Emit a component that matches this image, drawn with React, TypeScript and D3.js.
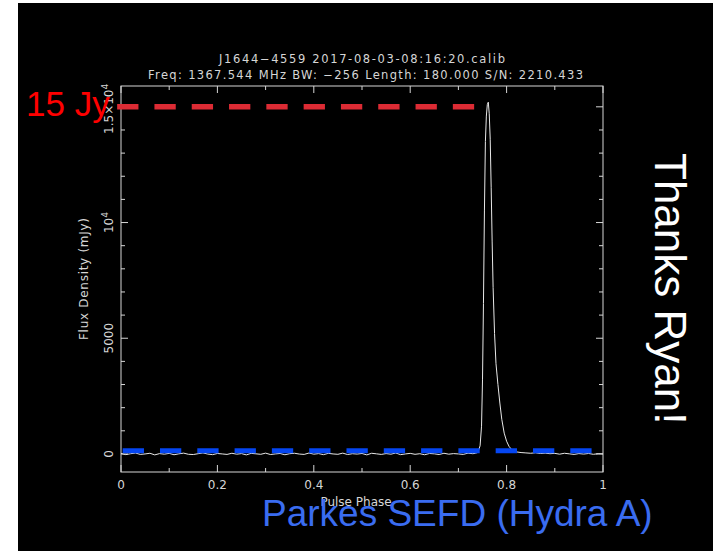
import React from "react";
import * as d3 from "d3";

// Integrated pulse profile of J1644-4559 (flux-calibrated), phase vs. mJy
const profile: [number, number][] = [
  [0.00, 20], [0.01, -30], [0.02, 10], [0.03, 40], [0.04, -20], [0.05, 0], [0.06, 30], [0.07, -40],
  [0.08, 15], [0.09, -10], [0.10, 25], [0.11, -35], [0.12, 5], [0.13, 35], [0.14, -15], [0.15, -25],
  [0.16, 10], [0.17, 45], [0.18, -5], [0.19, -30], [0.20, 20], [0.21, 0], [0.22, -20], [0.23, 30],
  [0.24, -10], [0.25, 15], [0.26, -40], [0.27, 25], [0.28, 5], [0.29, -15], [0.30, 35], [0.31, -25],
  [0.32, 0], [0.33, 20], [0.34, -35], [0.35, 10], [0.36, 30], [0.37, -5], [0.38, -20], [0.39, 40],
  [0.40, -10], [0.41, 15], [0.42, -30], [0.43, 25], [0.44, 0], [0.45, -15], [0.46, 35], [0.47, -25],
  [0.48, 10], [0.49, -5], [0.50, 20], [0.51, -40], [0.52, 30], [0.53, 5], [0.54, -20], [0.55, 15],
  [0.56, -10], [0.57, 40], [0.58, -30], [0.59, 0], [0.60, 25], [0.61, -15], [0.62, 10], [0.63, -35],
  [0.64, 20], [0.65, 5], [0.66, -25], [0.67, 30], [0.68, -10], [0.69, 15], [0.70, 0], [0.71, -20],
  [0.72, 35], [0.73, 10], [0.735, 30], [0.740, 60], [0.745, 350], [0.748, 1200], [0.750, 3200],
  [0.752, 6500], [0.754, 10500], [0.756, 13500], [0.758, 14600], [0.760, 15100], [0.762, 15200],
  [0.764, 14700], [0.766, 13600], [0.768, 11500], [0.770, 9200], [0.772, 7200], [0.775, 5200],
  [0.778, 3900], [0.782, 3000], [0.786, 2200], [0.790, 1500], [0.795, 900], [0.800, 550],
  [0.805, 330], [0.810, 200], [0.815, 130], [0.820, 90], [0.83, 60], [0.84, 45], [0.85, 30],
  [0.86, 50], [0.87, 20], [0.88, 35], [0.89, 10], [0.90, 25], [0.91, -10], [0.92, 30], [0.93, 5],
  [0.94, -20], [0.95, 15], [0.96, -5], [0.97, 20], [0.98, -15], [0.99, 10], [1.00, 0],
];

const xMajor = [0, 0.2, 0.4, 0.6, 0.8, 1];
const xMajorLabels = ["0", "0.2", "0.4", "0.6", "0.8", "1"];
const xMinor = [0.1, 0.3, 0.5, 0.7, 0.9];
const yMajor = [0, 5000, 10000, 15000];
const yMinor = [1000, 2000, 3000, 4000, 6000, 7000, 8000, 9000, 11000, 12000, 13000, 14000];

// Reference levels: peak flux (15 Jy) and the Hydra A SEFD level
const peakLevel = { value: 15000, from: -0.008, to: 0.734 };
const sefdLevel = { value: 140, from: 0.0035, to: 0.977 };

const titleLine1 = "J1644\u22124559 2017-08-03-08:16:20.calib";
const titleLine2 = "Freq: 1367.544 MHz BW: \u2212256 Length: 180.000 S/N: 2210.433";

const W = 713;
const H = 551;
const frame = { left: 121, right: 603, top: 86, bottom: 472 };
const ink = "#d6d6d6";
const pgFont = "'DejaVu Sans', sans-serif";
const slideFont = "'Liberation Sans', Arial, sans-serif";

export default function App() {
  const x = d3.scaleLinear().domain([0, 1]).range([frame.left, frame.right]);
  const y = d3.scaleLinear().domain([-780, 15900]).range([frame.bottom, frame.top]);
  const line = d3
    .line<[number, number]>()
    .x((d) => x(d[0]))
    .y((d) => y(d[1]));

  const majorLen = 7;
  const minorLen = 4;

  return (
    <svg
      width={W}
      height={H}
      style={{ position: "absolute", left: 0, top: 0, display: "block" }}
    >
      <rect x={0} y={0} width={W} height={H} fill="#ffffff" />
      <rect x={18} y={3} width={W - 18} height={H - 3} fill="#000000" />

      {/* titles */}
      <text x={362} y={62.5} fill={ink} fontFamily={pgFont} fontSize={11.5} textAnchor="middle"
        textLength={286} lengthAdjust="spacing">{titleLine1}</text>
      <text x={365.5} y={79} fill={ink} fontFamily={pgFont} fontSize={11.5} textAnchor="middle"
        textLength={435} lengthAdjust="spacing">{titleLine2}</text>

      {/* frame */}
      <rect x={frame.left} y={frame.top} width={frame.right - frame.left} height={frame.bottom - frame.top}
        fill="none" stroke={ink} strokeWidth={1} />

      {/* x ticks, bottom and top */}
      {xMajor.map((v) => (
        <g key={"xM" + v}>
          <line x1={x(v)} x2={x(v)} y1={frame.bottom} y2={frame.bottom - majorLen} stroke={ink} />
          <line x1={x(v)} x2={x(v)} y1={frame.top} y2={frame.top + majorLen} stroke={ink} />
        </g>
      ))}
      {xMinor.map((v) => (
        <g key={"xm" + v}>
          <line x1={x(v)} x2={x(v)} y1={frame.bottom} y2={frame.bottom - minorLen} stroke={ink} />
          <line x1={x(v)} x2={x(v)} y1={frame.top} y2={frame.top + minorLen} stroke={ink} />
        </g>
      ))}
      {xMajor.map((v, i) => (
        <text key={"xl" + v} x={x(v)} y={489} fill={ink} fontFamily={pgFont} fontSize={12} textAnchor="middle">
          {xMajorLabels[i]}
        </text>
      ))}

      {/* y ticks, left and right */}
      {yMajor.map((v) => (
        <g key={"yM" + v}>
          <line x1={frame.left} x2={frame.left + majorLen} y1={y(v)} y2={y(v)} stroke={ink} />
          <line x1={frame.right} x2={frame.right - majorLen} y1={y(v)} y2={y(v)} stroke={ink} />
        </g>
      ))}
      {yMinor.map((v) => (
        <g key={"ym" + v}>
          <line x1={frame.left} x2={frame.left + minorLen} y1={y(v)} y2={y(v)} stroke={ink} />
          <line x1={frame.right} x2={frame.right - minorLen} y1={y(v)} y2={y(v)} stroke={ink} />
        </g>
      ))}
      <text transform={`translate(112.5,${y(0)}) rotate(-90)`} fill={ink} fontFamily={pgFont} fontSize={12} textAnchor="middle">0</text>
      <text transform={`translate(112.5,${y(5000)}) rotate(-90)`} fill={ink} fontFamily={pgFont} fontSize={12} textAnchor="middle">5000</text>
      <text transform={`translate(112.5,${y(10000)}) rotate(-90)`} fill={ink} fontFamily={pgFont} fontSize={12} textAnchor="middle">
        10<tspan dy={-5} fontSize={9}>4</tspan>
      </text>
      <text transform={`translate(112.5,${y(15000) + 2}) rotate(-90)`} fill={ink} fontFamily={pgFont} fontSize={12} textAnchor="middle">
        1.5×10<tspan dy={-5} fontSize={9}>4</tspan>
      </text>

      {/* axis labels */}
      <text transform={`translate(88,${(frame.top + frame.bottom) / 2}) rotate(-90)`} fill={ink}
        fontFamily={pgFont} fontSize={12} textAnchor="middle" textLength={122} lengthAdjust="spacing">
        Flux Density (mJy)
      </text>
      <text x={356} y={506} fill={ink} fontFamily={pgFont} fontSize={12} textAnchor="middle">Pulse Phase</text>

      {/* profile */}
      <path d={line(profile) ?? ""} fill="none" stroke="#e8e8e8" strokeWidth={1} />

      {/* reference levels */}
      <line x1={x(peakLevel.from)} x2={x(peakLevel.to)} y1={y(peakLevel.value)} y2={y(peakLevel.value)}
        stroke="#dc2b34" strokeWidth={5.5} strokeDasharray="21.3 16" />
      <line x1={x(sefdLevel.from)} x2={x(sefdLevel.to)} y1={y(sefdLevel.value)} y2={y(sefdLevel.value)}
        stroke="#0546f2" strokeWidth={5} strokeDasharray="21.3 16" />

      {/* annotations */}
      <text x={26} y={116} fill="#ff0000" fontFamily={slideFont} fontSize={35}>15 Jy</text>
      <text x={262} y={525.5} fill="#3a6cf0" fontFamily={slideFont} fontSize={37}>Parkes SEFD (Hydra A)</text>
      <text transform="translate(655,153) rotate(90)" fill="#ffffff" fontFamily={slideFont} fontSize={44}>Thanks Ryan!</text>
    </svg>
  );
}
